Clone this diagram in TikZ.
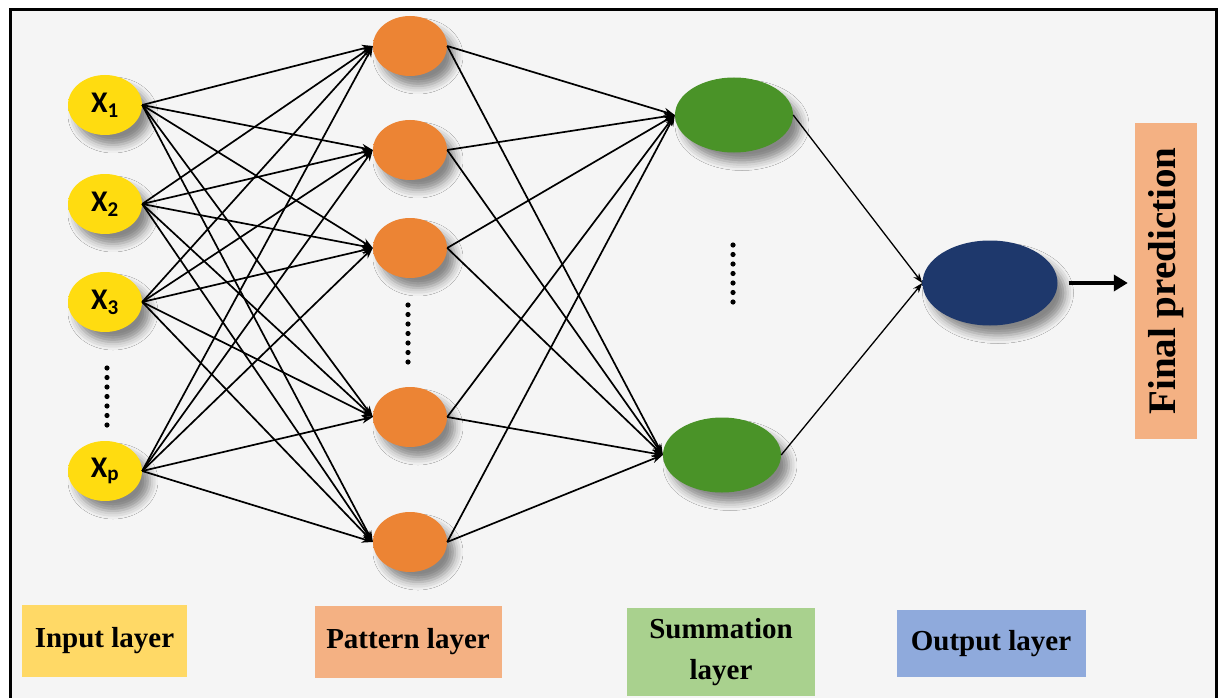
\documentclass[tikz,border=0pt]{standalone}
\usepackage{fontspec}
\setmainfont{Liberation Serif}
\newfontfamily\carl{Carlito}
\usetikzlibrary{shapes.geometric,arrows.meta,shadows.blur}
\definecolor{bgc}{HTML}{F5F5F5}
\definecolor{yin}{HTML}{FFDC10}
\definecolor{yout}{HTML}{E8AE00}
\definecolor{oin}{HTML}{EC8434}
\definecolor{oout}{HTML}{FFB848}
\definecolor{gin}{HTML}{4A9328}
\definecolor{gout}{HTML}{78CA44}
\definecolor{nin}{HTML}{1E386C}
\definecolor{nout}{HTML}{3A60AA}
\definecolor{legY}{HTML}{FFD966}
\definecolor{legO}{HTML}{F4B183}
\definecolor{legG}{HTML}{A9D18E}
\definecolor{legB}{HTML}{8FAADC}
\pgfdeclareradialshading{yelsh}{\pgfpoint{0bp}{0bp}}{color(0bp)=(yin); color(28bp)=(yin); color(50bp)=(yout); color(70bp)=(yout)}
\pgfdeclareradialshading{orash}{\pgfpoint{0bp}{0bp}}{color(0bp)=(oin); color(34bp)=(oin); color(50bp)=(oout); color(70bp)=(oout)}
\pgfdeclareradialshading{grnsh}{\pgfpoint{0bp}{0bp}}{color(0bp)=(gin); color(33bp)=(gin); color(50bp)=(gout); color(70bp)=(gout)}
\pgfdeclareradialshading{navsh}{\pgfpoint{0bp}{0bp}}{color(0bp)=(nin); color(38bp)=(nin); color(50bp)=(nout); color(70bp)=(nout)}
\begin{document}
\begin{tikzpicture}[x=1pt,y=-1pt,
  shad/.style={blur shadow={shadow xshift=8pt,shadow yshift=-10pt,shadow blur radius=8pt,shadow opacity=45}},
  inp/.style={ellipse,inner sep=0pt,minimum width=74pt,minimum height=60pt,shading=yelsh,shad,font=\carl\bfseries\fontsize{30}{32}\selectfont},
  pat/.style={ellipse,inner sep=0pt,minimum width=74pt,minimum height=60pt,shading=orash,shad},
  summ/.style={ellipse,inner sep=0pt,minimum width=118pt,minimum height=75pt,shading=grnsh,shad},
  outn/.style={ellipse,inner sep=0pt,minimum width=135pt,minimum height=85pt,shading=navsh,shad},
  leg/.style={rectangle,inner sep=0pt,align=center,font=\bfseries\fontsize{29}{41}\selectfont},
  con/.style={line width=1.7pt,-{Stealth[length=11pt,width=8pt]}},
  con2/.style={line width=1.3pt,-{Stealth[length=10pt,width=7pt]}},
  dotc/.style={fill=black}
]
\useasboundingbox (0,0) rectangle (1220,698);
\fill[white] (0,0) rectangle (1220,698);
\fill[bgc] (10,10) rectangle (1216,698);
\draw[line width=3pt] (10,700) -- (10,10) -- (1216,10) -- (1216,700);

% input nodes
\node[inp] (x1) at (105,105) {X\textsubscript{1}};
\node[inp] (x2) at (105,204) {X\textsubscript{2}};
\node[inp] (x3) at (105,302) {X\textsubscript{3}};
\node[inp] (xp) at (105,471) {X\textsubscript{p}};
% pattern nodes
\node[pat] (p1) at (410,46) {};
\node[pat] (p2) at (410,150) {};
\node[pat] (p3) at (410,248) {};
\node[pat] (p4) at (410,417) {};
\node[pat] (p5) at (410,542) {};
% summation nodes
\node[summ] (s1) at (734,115) {};
\node[summ] (s2) at (722,455) {};
% output
\node[outn] (o) at (990,283) {};
% final
\node[rectangle,fill=legO,rotate=90,minimum width=316pt,minimum height=62pt,inner sep=0pt,font=\bfseries\fontsize{39}{42}\selectfont] (fin) at (1166,281) {Final prediction};

% dots
\foreach \i in {0,...,6} {
  \fill[dotc] (107,368+9.5*\i) circle (2.6pt);
  \fill[dotc] (408,305+9.5*\i) circle (2.6pt);
  \fill[dotc] (733,245+9.5*\i) circle (2.6pt);
}

% connections
\foreach \a in {x1,x2,x3,xp} {
  \foreach \b in {p1,p2,p3,p4,p5} {
    \draw[con] (\a.east) -- (\b.west);
  }
}
\foreach \a in {p1,p2,p3,p4,p5} {
  \foreach \b in {s1,s2} {
    \draw[con] (\a.east) -- (\b.west);
  }
}
\draw[con2] (s1.east) -- (o.west);
\draw[con2] (s2.east) -- (o.west);
\draw[line width=4pt,-{Triangle[length=14pt,width=16pt]},shorten <=11pt,shorten >=7pt] (o.east) -- (o.east -| fin.north);

% legend
\node[leg,fill=legY,minimum width=165pt,minimum height=72pt] (li) at (104.5,641) {Input layer};
\node[leg,fill=legO,minimum width=187pt,minimum height=72pt] (lp) at (408,642) {Pattern layer};
\node[leg,fill=legG,minimum width=188pt,minimum height=88pt] (ls) at (721,652) {Summation\\layer};
\node[leg,fill=legB,minimum width=189pt,minimum height=67pt] (lo) at (991,643.5) {Output layer};
\end{tikzpicture}
\end{document}
